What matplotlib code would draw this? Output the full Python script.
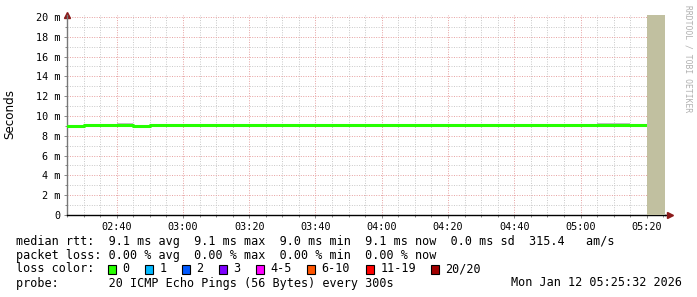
import matplotlib
matplotlib.use('Agg')
import matplotlib.pyplot as plt
from matplotlib.patches import Rectangle

# median rtt (ms) for each 5-minute step from 02:25 to 05:15
median_ms = [9.00, 9.05, 9.08, 9.08, 8.95, 9.08, 9.05, 9.05, 9.08, 9.06,
             9.08, 9.06, 9.08, 9.08, 9.07, 9.07, 9.07, 9.06, 9.08, 9.08,
             9.06, 9.09, 9.09, 9.09, 9.08, 9.08, 9.09, 9.09, 9.08, 9.08,
             9.07, 9.08, 9.07, 9.08, 9.08]
# smoke band (min / max of the pings) per step
smoke_lo = [8.92, 8.98, 8.98, 9.00, 8.78, 8.98, 8.98, 8.96, 8.98, 8.98,
            8.98, 8.98, 8.98, 8.98, 8.96, 8.98, 8.96, 8.96, 8.98, 8.98,
            8.96, 8.98, 8.98, 9.00, 8.98, 8.98, 9.00, 9.00, 8.96, 8.98,
            8.98, 8.98, 8.96, 8.96, 8.98]
smoke_hi = [9.12, 9.17, 9.17, 9.25, 9.10, 9.17, 9.17, 9.17, 9.17, 9.17,
            9.17, 9.17, 9.17, 9.20, 9.20, 9.20, 9.17, 9.17, 9.17, 9.17,
            9.17, 9.20, 9.20, 9.20, 9.17, 9.17, 9.20, 9.17, 9.17, 9.17,
            9.17, 9.20, 9.25, 9.28, 9.17]
first_step = '02:25'
step_min = 5
data_end = '05:20'
view_start, view_end = '02:25:30', '05:25:30'
tick_labels = ['02:40', '03:00', '03:20', '03:40', '04:00', '04:20', '04:40', '05:00', '05:20']
y_ticks = [0, 2, 4, 6, 8, 10, 12, 14, 16, 18, 20]

legend_rtt = 'median rtt:  9.1 ms avg  9.1 ms max  9.0 ms min  9.1 ms now  0.0 ms sd  315.4   am/s'
legend_loss = 'packet loss: 0.00 % avg  0.00 % max  0.00 % min  0.00 % now'
legend_probe = 'probe:       20 ICMP Echo Pings (56 Bytes) every 300s'
stamp = 'Mon Jan 12 05:25:32 2026'
loss_labels = ['0', '1', '2', '3', '4-5', '6-10', '11-19', '20/20']
loss_colors = ['#26ff00', '#00b8ff', '#0059ff', '#7e00ff', '#ff00ff', '#ff5500', '#ff0000', '#a10000']


def mins(s):
    p = [int(v) for v in s.split(':')]
    return p[0] * 60 + p[1] + (p[2] / 60 if len(p) > 2 else 0)


t0 = mins(first_step)
xs = [t0 + i * step_min for i in range(len(median_ms))] + [mins(data_end)]
W, H = 697, 297
fig = plt.figure(figsize=(W / 100, H / 100), dpi=100)
ax = fig.add_axes([67 / W, (H - 215) / H, 598 / W, 200 / H])
ax.set_xlim(mins(view_start), mins(view_end))
ax.set_ylim(0, 20.2)

lo = smoke_lo + [smoke_lo[-1]]
hi = smoke_hi + [smoke_hi[-1]]
ax.fill_between(xs, lo, hi, step='post', color='#c0c0c0', lw=0, zorder=2)
ax.step(xs, median_ms + [median_ms[-1]], where='post', color=loss_colors[0], lw=2.2, zorder=3)
ax.axvspan(mins(data_end), mins(view_end), color='#c1c0a0', lw=0, zorder=4)

tick_pos = [mins(t) for t in tick_labels]
ax.set_xticks(tick_pos)
ax.set_xticklabels(tick_labels)
ax.set_xticks([x for x in range(145, 330, 5)], minor=True)
ax.set_yticks(y_ticks)
ax.set_yticklabels(['0'] + [f'{v} m' for v in y_ticks[1:]])
ax.set_yticks(range(1, 21, 2), minor=True)
ax.grid(which='minor', color='#c8c8c8', lw=0.7, linestyle=(0, (1, 1.5)), zorder=1)
ax.grid(which='major', color='#e6a0a0', lw=0.7, linestyle=(0, (1, 1.5)), zorder=1)
ax.tick_params(which='both', length=2, width=0.7, color='#888888',
               labelsize=7.3, labelfontfamily='DejaVu Sans Mono', pad=3)
ax.tick_params(which='minor', length=1.5)
for s in ('top', 'right'):
    ax.spines[s].set_visible(False)
ax.spines['bottom'].set_color('black')
ax.spines['left'].set_color('#777777')
ax.spines['bottom'].set_linewidth(1)
ax.spines['left'].set_linewidth(1)
ax.plot([1.0, 1.008], [0, 0], color='black', lw=1, transform=ax.transAxes, clip_on=False)
ax.plot([1.008], [0], marker='>', color='#8b1a1a', ms=4, transform=ax.transAxes, clip_on=False)
ax.plot([0], [1.0], marker='^', color='#8b1a1a', ms=4, transform=ax.transAxes, clip_on=False)
ax.set_facecolor('white')


def px(x, y):
    return x / W, 1 - y / H


fig.text(*px(10, 114), 'Seconds', family='DejaVu Sans', fontsize=8.6, rotation=90,
         ha='center', va='center')

mono = dict(family='DejaVu Sans Mono', fontsize=8.5, va='center', ha='left')
fig.text(*px(16, 241), legend_rtt, **mono)
fig.text(*px(16, 255), legend_loss, **mono)
fig.text(*px(16, 269), 'loss color:', **mono)
fig.text(*px(16, 283), legend_probe, **mono)
fig.text(*px(682, 283), stamp, **{**mono, 'ha': 'right'})

box_x = [108, 145, 182, 219, 256, 307, 366, 431]
for bx, lab, col in zip(box_x, loss_labels, loss_colors):
    fig.patches.append(Rectangle(px(bx, 274), 8 / W, 9 / H, facecolor=col,
                                 edgecolor='black', lw=0.8, transform=fig.transFigure))
    fig.text(*px(bx + 14.5, 269), lab, **mono)

fig.text(*px(688, 5), 'RRDTOOL / TOBI OETIKER', family='DejaVu Sans Mono', fontsize=5.8,
         color='#b0b0b0', rotation=270, ha='center', va='top')

fig.savefig('out.png', dpi=100, facecolor='white')
